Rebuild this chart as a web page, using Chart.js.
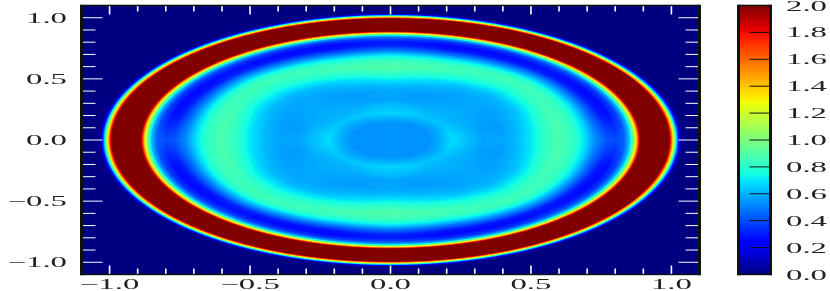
<!DOCTYPE html>
<html>
<head>
<meta charset="utf-8">
<script src="https://cdn.jsdelivr.net/npm/chart.js@4/dist/chart.umd.min.js"></script>
<style>
  html, body { margin: 0; background: #fff; }
  #wrap { position: relative; width: 830px; height: 291px; overflow: hidden; }
  canvas { position: absolute; left: 0; top: 0; }
</style>
</head>
<body>
<div id="wrap">
  <canvas id="map" width="830" height="291"></canvas>
  <canvas id="bar" width="830" height="291"></canvas>
</div>
<script>
// Tick labels
const xLabels = [-1.0, -0.5, 0.0, 0.5, 1.0];
const yLabels = [-1.0, -0.5, 0.0, 0.5, 1.0];
const barLabels = [0.0, 0.2, 0.4, 0.6, 0.8, 1.0, 1.2, 1.4, 1.6, 1.8, 2.0];
const minorTicks = [-1.0, -0.9, -0.8, -0.7, -0.6, -0.5, -0.4, -0.3, -0.2, -0.1, 0.0,
                    0.1, 0.2, 0.3, 0.4, 0.5, 0.6, 0.7, 0.8, 0.9, 1.0];

// Field: one row per radius, one column per angle in the quadrant
const angles = [0, 15, 30, 45, 60, 75, 90];
const radii = [0, 0.14, 0.17, 0.22, 0.27, 0.33, 0.40, 0.45, 0.50, 0.55, 0.60, 0.65, 0.69, 0.73,
               0.77, 0.80, 0.83, 0.85, 0.86, 0.873, 0.885, 0.90, 0.985, 0.997, 1.012, 1.025, 1.035, 1.06, 1.6];
const field = [
  [0.54, 0.54, 0.54, 0.54, 0.54, 0.54, 0.54],
  [0.54, 0.54, 0.53, 0.54, 0.53, 0.54, 0.54],
  [0.58, 0.58, 0.57, 0.57, 0.57, 0.58, 0.58],
  [0.68, 0.67, 0.64, 0.63, 0.64, 0.66, 0.67],
  [0.63, 0.62, 0.60, 0.60, 0.60, 0.62, 0.63],
  [0.57, 0.56, 0.58, 0.59, 0.58, 0.56, 0.57],
  [0.58, 0.56, 0.56, 0.58, 0.56, 0.56, 0.58],
  [0.62, 0.60, 0.58, 0.58, 0.58, 0.60, 0.63],
  [0.71, 0.68, 0.62, 0.60, 0.62, 0.68, 0.73],
  [0.82, 0.80, 0.73, 0.70, 0.73, 0.79, 0.84],
  [0.88, 0.88, 0.84, 0.80, 0.83, 0.87, 0.90],
  [0.82, 0.83, 0.85, 0.86, 0.85, 0.83, 0.84],
  [0.70, 0.70, 0.74, 0.78, 0.74, 0.70, 0.72],
  [0.52, 0.47, 0.50, 0.55, 0.50, 0.46, 0.50],
  [0.42, 0.30, 0.29, 0.31, 0.29, 0.28, 0.33],
  [0.40, 0.27, 0.26, 0.28, 0.26, 0.26, 0.30],
  [0.44, 0.38, 0.36, 0.38, 0.36, 0.36, 0.40],
  [0.62, 0.60, 0.58, 0.58, 0.58, 0.58, 0.60],
  [0.85, 0.85, 0.85, 0.85, 0.85, 0.85, 0.85],
  [1.25, 1.25, 1.25, 1.25, 1.25, 1.25, 1.25],
  [1.85, 1.85, 1.85, 1.85, 1.85, 1.85, 1.85],
  [2.30, 2.30, 2.30, 2.30, 2.30, 2.30, 2.30],
  [2.30, 2.30, 2.30, 2.30, 2.30, 2.30, 2.30],
  [1.80, 1.80, 1.80, 1.80, 1.80, 1.80, 1.80],
  [1.00, 1.00, 1.00, 1.00, 1.00, 1.00, 1.00],
  [0.30, 0.30, 0.30, 0.30, 0.30, 0.30, 0.30],
  [0.02, 0.02, 0.02, 0.02, 0.02, 0.02, 0.02],
  [0.00, 0.00, 0.00, 0.00, 0.00, 0.00, 0.00],
  [0.00, 0.00, 0.00, 0.00, 0.00, 0.00, 0.00]
];

// Jet colormap, [position, level]
const jetR = [[0, 0], [0.35, 0], [0.66, 1], [0.89, 1], [1, 0.5]];
const jetG = [[0, 0], [0.125, 0], [0.375, 1], [0.64, 1], [0.91, 0], [1, 0]];
const jetB = [[0, 0.5], [0.11, 1], [0.34, 1], [0.65, 0], [1, 0]];

const vMax = 2;
const textColor = '#222';
const labelFont = '14.5px "Liberation Serif"';
const stretch = 2.26;

function channel(stops, t) {
  for (let i = 1; i < stops.length; i++) {
    if (t <= stops[i][0]) {
      const f = (t - stops[i - 1][0]) / (stops[i][0] - stops[i - 1][0]);
      return stops[i - 1][1] + f * (stops[i][1] - stops[i - 1][1]);
    }
  }
  return stops[stops.length - 1][1];
}

function jet(v) {
  const t = Math.min(1, Math.max(0, v / vMax));
  return [channel(jetR, t) * 255, channel(jetG, t) * 255, channel(jetB, t) * 255];
}

// Shade between the table's nodes, as imshow does with bilinear interpolation
function lookup(x, y) {
  const r = Math.min(Math.hypot(x, y), 1.599);
  let i = 0;
  while (radii[i + 1] < r) i++;
  const fr = (r - radii[i]) / (radii[i + 1] - radii[i]);
  const deg = Math.atan2(Math.abs(y), Math.abs(x)) * 180 / Math.PI;
  const j = Math.min(Math.floor(deg / 15), angles.length - 2);
  const fa = (deg - angles[j]) / 15;
  const a = field[i][j] + fa * (field[i][j + 1] - field[i][j]);
  const b = field[i + 1][j] + fa * (field[i + 1][j + 1] - field[i + 1][j]);
  return a + fr * (b - a);
}

function stretchedText(ctx, text, x, y, align) {
  ctx.save();
  ctx.font = labelFont;
  ctx.fillStyle = textColor;
  ctx.textBaseline = 'alphabetic';
  const w = ctx.measureText(text).width * stretch;
  let left = x;
  if (align === 'center') left = x - w / 2;
  if (align === 'right') left = x - w;
  ctx.translate(left, y);
  ctx.scale(stretch, 1);
  ctx.textAlign = 'left';
  ctx.fillText(text, 0, 0);
  ctx.restore();
}

function label(v) {
  return (v < 0 ? '\u2212' : '') + Math.abs(v).toFixed(1);
}

function frame(ctx, area) {
  ctx.fillStyle = '#111';
  ctx.fillRect(area.left - 1.5, area.top - 0.8, 3, area.bottom - area.top + 1.6);
  ctx.fillRect(area.right - 1.5, area.top - 0.8, 3, area.bottom - area.top + 1.6);
  ctx.fillRect(area.left, area.top - 0.8, area.right - area.left, 1.5);
  ctx.fillRect(area.left, area.bottom - 0.7, area.right - area.left, 1.4);
}

const mapPlugin = {
  id: 'mapPlugin',
  afterDraw(chart) {
    const ctx = chart.ctx, area = chart.chartArea;
    const xs = chart.scales.x, ys = chart.scales.y;
    const x0 = Math.floor(area.left), y0 = Math.floor(area.top);
    const w = Math.ceil(area.right) - x0, h = Math.ceil(area.bottom) - y0;
    const img = ctx.createImageData(w, h);
    for (let py = 0; py < h; py++) {
      const vy = ys.getValueForPixel(y0 + py + 0.5);
      for (let px = 0; px < w; px++) {
        const c = jet(lookup(xs.getValueForPixel(x0 + px + 0.5), vy));
        const k = (py * w + px) * 4;
        img.data[k] = c[0]; img.data[k + 1] = c[1]; img.data[k + 2] = c[2]; img.data[k + 3] = 255;
      }
    }
    ctx.putImageData(img, x0, y0);

    // Inward white ticks
    ctx.strokeStyle = '#fff';
    minorTicks.forEach(function (v) {
      const major = xLabels.includes(v);
      const px = xs.getPixelForValue(v);
      const len = major ? 9 : 6;
      ctx.lineWidth = 1.6;
      ctx.beginPath();
      ctx.moveTo(px, area.top); ctx.lineTo(px, area.top + len);
      ctx.moveTo(px, area.bottom); ctx.lineTo(px, area.bottom - len);
      ctx.stroke();
      const py = ys.getPixelForValue(v);
      const lenY = major ? 21 : 14;
      ctx.lineWidth = 1;
      ctx.beginPath();
      ctx.moveTo(area.left, py); ctx.lineTo(area.left + lenY, py);
      ctx.moveTo(area.right, py); ctx.lineTo(area.right - lenY, py);
      ctx.stroke();
    });
    frame(ctx, area);

    xLabels.forEach(function (v) {
      stretchedText(ctx, label(v), xs.getPixelForValue(v), 289, 'center');
    });
    yLabels.forEach(function (v) {
      stretchedText(ctx, label(v), 67, ys.getPixelForValue(v) + 5, 'right');
    });
  }
};

const barPlugin = {
  id: 'barPlugin',
  afterDraw(chart) {
    const ctx = chart.ctx, area = chart.chartArea, ys = chart.scales.y;
    for (let py = Math.floor(area.top); py < Math.ceil(area.bottom); py++) {
      const c = jet(ys.getValueForPixel(py + 0.5));
      ctx.fillStyle = 'rgb(' + c[0] + ',' + c[1] + ',' + c[2] + ')';
      ctx.fillRect(area.left, py, area.right - area.left, 1);
    }
    ctx.strokeStyle = '#111';
    ctx.lineWidth = 1;
    barLabels.forEach(function (v) {
      const py = ys.getPixelForValue(v);
      if (v > 0 && v < vMax) {
        ctx.beginPath();
        ctx.moveTo(area.right, py); ctx.lineTo(area.right - 21, py);
        ctx.stroke();
      }
      stretchedText(ctx, v.toFixed(1), 786, py + 5, 'left');
    });
    frame(ctx, area);
  }
};

// Table nodes as a dataset, the plugin paints the field from the same table
const nodes = [];
radii.forEach(function (r, i) {
  angles.forEach(function (a, j) {
    nodes.push({ x: r * Math.cos(a * Math.PI / 180), y: r * Math.sin(a * Math.PI / 180), v: field[i][j] });
  });
});

new Chart(document.getElementById('map'), {
  type: 'scatter',
  data: { datasets: [{ label: 'field', data: nodes, pointRadius: 0 }] },
  options: {
    responsive: false,
    animation: false,
    layout: { padding: { left: 81.5, right: 130.5, top: 5.5, bottom: 16.5 } },
    plugins: { legend: { display: false }, tooltip: { enabled: false } },
    scales: {
      x: { type: 'linear', min: -1.1, max: 1.1, display: false },
      y: { type: 'linear', min: -1.1, max: 1.1, display: false }
    }
  },
  plugins: [mapPlugin]
});

new Chart(document.getElementById('bar'), {
  type: 'scatter',
  data: { datasets: [{ label: 'colorbar', data: barLabels.map(function (v) { return { x: 0, y: v }; }), pointRadius: 0 }] },
  options: {
    responsive: false,
    animation: false,
    layout: { padding: { left: 738.5, right: 59.5, top: 5.5, bottom: 16.5 } },
    plugins: { legend: { display: false }, tooltip: { enabled: false } },
    scales: {
      x: { type: 'linear', min: 0, max: 1, display: false },
      y: { type: 'linear', min: 0, max: vMax, display: false }
    }
  },
  plugins: [barPlugin]
});
</script>
</body>
</html>
